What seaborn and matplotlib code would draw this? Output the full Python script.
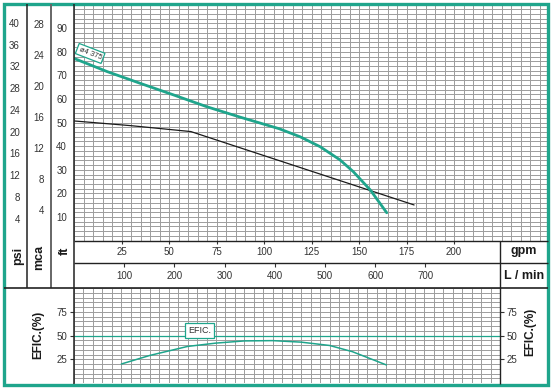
import numpy as np
import pandas as pd
import matplotlib
matplotlib.use("Agg")
import matplotlib.pyplot as plt
from matplotlib.lines import Line2D
from matplotlib.patches import Rectangle
import seaborn as sns

# ---------------- data ----------------
head_gpm = [0, 17.5, 35, 52.5, 70, 87.5, 108, 119, 129.5, 140, 147, 156, 164.6]
head_ft = [77.2, 71.6, 66.6, 61.7, 56.7, 52.3, 47.4, 44.0, 39.8, 34.2, 29.2, 21.4, 11.8]

sys_gpm = [0, 30, 61.5, 179]
sys_ft = [50.7, 48.7, 46.2, 15.1]

eff_gpm = [25, 40, 60, 75, 90, 105, 120, 135, 147, 156, 165]
eff_pct = [20, 29, 38.5, 42, 44.3, 44.6, 43, 39.5, 33, 26, 19]
eff_ref = 50

curve_label = "ø4 375"
eff_label = "EFIC."

ft_ticks = [10, 20, 30, 40, 50, 60, 70, 80, 90]
psi_ticks = [4, 8, 12, 16, 20, 24, 28, 32, 36, 40]
mca_ticks = [4, 8, 12, 16, 20, 24, 28]
gpm_ticks = [25, 50, 75, 100, 125, 150, 175, 200]
lmin_ticks = [100, 200, 300, 400, 500, 600, 700]
eff_ticks = [25, 50, 75]

# ---------------- style ----------------
sns.set_style("white")
plt.rcParams["font.family"] = ["Liberation Sans", "DejaVu Sans"]

TEAL = "#1fa58c"
GRID = "#9c9c9c"
W, H = 553, 392
PX = 1.9  # px per gpm


def rect(x0, y0, x1, y1):
    return [x0 / W, 1 - y1 / H, (x1 - x0) / W, (y1 - y0) / H]


def fline(x0, y0, x1, y1, color="#222222", lw=1.0):
    fig.add_artist(Line2D([x0 / W, x1 / W], [1 - y0 / H, 1 - y1 / H],
                          color=color, lw=lw, solid_capstyle="butt"))


def ftext(x, y, s, **kw):
    fig.text(x / W, 1 - y / H, s, ha="center", va="center", **kw)


fig = plt.figure(figsize=(W / 100, H / 100), dpi=100)

# ---------------- main head chart ----------------
ax = fig.add_axes(rect(74, 4.6, 547, 240.6))
ax.set_xlim(0, (547 - 74) / PX)
ax.set_ylim(0, 100)
ax.set_xticks([])
ax.set_xticks(np.arange(0, 250, 5), minor=True)
ax.set_yticks(ft_ticks)
ax.set_yticks(np.arange(0, 101, 2), minor=True)
ax.grid(True, which="both", color=GRID, lw=0.7)
ax.set_axisbelow(True)
ax.tick_params(axis="y", which="major", direction="out", length=3, width=0.8,
               labelsize=7, colors="#333333", pad=2)
ax.tick_params(axis="both", which="minor", length=0)
for s in ["top", "right", "bottom", "left"]:
    ax.spines[s].set_visible(False)

df_head = pd.DataFrame({"gpm": head_gpm, "ft": head_ft})
df_sys = pd.DataFrame({"gpm": sys_gpm, "ft": sys_ft})
sns.lineplot(data=df_sys, x="gpm", y="ft", ax=ax, color="#1a1a1a", lw=0.9, sort=False)
sns.lineplot(data=df_head, x="gpm", y="ft", ax=ax, color=TEAL, lw=2.0, sort=False)
ax.set_xlabel("")
ax.set_ylabel("")
ax.text(8.5, 79.3, curve_label, fontsize=5.5, rotation=-21, ha="center", va="center",
        color="#333333",
        bbox=dict(boxstyle="square,pad=0.25", fc="white", ec=TEAL, lw=0.9))

# psi axis
ax_psi = fig.add_axes(rect(27, 4.6, 27.01, 240.6))
ax_psi.set_ylim(0, 100 * 0.4335)
ax_psi.set_yticks(psi_ticks)
ax_psi.set_xticks([])
ax_psi.tick_params(axis="y", direction="out", length=3, width=0.8, labelsize=7,
                   colors="#333333", pad=2)
for s in ["top", "right", "bottom", "left"]:
    ax_psi.spines[s].set_visible(False)

# mca axis
ax_mca = fig.add_axes(rect(51, 4.6, 51.01, 240.6))
ax_mca.set_ylim(0, 100 * 0.3048)
ax_mca.set_yticks(mca_ticks)
ax_mca.set_xticks([])
ax_mca.tick_params(axis="y", direction="out", length=3, width=0.8, labelsize=7,
                   colors="#333333", pad=2)
for s in ["top", "right", "bottom", "left"]:
    ax_mca.spines[s].set_visible(False)

# ---------------- gpm row ----------------
ax_g = fig.add_axes(rect(74, 240.6, 501.5, 263))
ax_g.set_xlim(0, (501.5 - 74) / PX)
ax_g.set_xticks(gpm_ticks)
ax_g.set_yticks([])
ax_g.tick_params(axis="x", top=True, bottom=False, labeltop=True, labelbottom=False,
                 direction="in", length=2.5, width=0.8, labelsize=7, colors="#333333",
                 pad=-12)
for s in ["top", "right", "bottom", "left"]:
    ax_g.spines[s].set_visible(False)
ax_g.patch.set_alpha(0)

# ---------------- L/min row ----------------
ax_l = fig.add_axes(rect(74, 263, 501.5, 288))
ax_l.set_xlim(0, (501.5 - 74) / PX * 3.7854)
ax_l.set_xticks(lmin_ticks)
ax_l.set_yticks([])
ax_l.tick_params(axis="x", top=True, bottom=False, labeltop=True, labelbottom=False,
                 direction="in", length=3, width=0.8, labelsize=7, colors="#333333",
                 pad=-13)
for s in ["top", "right", "bottom", "left"]:
    ax_l.spines[s].set_visible(False)
ax_l.patch.set_alpha(0)

# ---------------- efficiency panel ----------------
ax_e = fig.add_axes(rect(74, 288, 500, 383))
ax_e.set_xlim(0, (500 - 74) / PX)
ax_e.set_ylim(0, 100)
ax_e.set_xticks([])
ax_e.set_xticks(np.arange(0, 230, 5), minor=True)
ax_e.set_yticks(eff_ticks)
ax_e.set_yticks(np.arange(0, 101, 5), minor=True)
ax_e.grid(True, which="both", color=GRID, lw=0.7)
ax_e.set_axisbelow(True)
ax_e.tick_params(axis="y", which="major", direction="out", length=3, width=0.8,
                 labelsize=7, colors="#333333", pad=2, left=True, right=True,
                 labelright=True)
ax_e.tick_params(axis="both", which="minor", length=0)
for s in ["top", "right", "bottom", "left"]:
    ax_e.spines[s].set_visible(False)
ax_e.axhline(eff_ref, color=TEAL, lw=0.9)
df_eff = pd.DataFrame({"gpm": eff_gpm, "eff": eff_pct})
sns.lineplot(data=df_eff, x="gpm", y="eff", ax=ax_e, color=TEAL, lw=1.1, sort=False)
ax_e.set_xlabel("")
ax_e.set_ylabel("")
ax_e.text(66.3, 55.2, eff_label, fontsize=6.5, ha="center", va="center", color="#333333",
          bbox=dict(boxstyle="square,pad=0.3", fc="white", ec=TEAL, lw=0.9))

# ---------------- frame lines ----------------
fline(27, 4, 27, 288, "#222222", 1.1)
fline(51, 4, 51, 288, "#666666", 1.4)
fline(74, 4, 74, 384, "#222222", 1.1)
fline(74, 240.6, 548, 240.6, "#222222", 1.0)
fline(74, 263, 548, 263, "#222222", 1.0)
fline(4, 288, 548, 288, "#222222", 1.2)
fline(500, 240.6, 500, 384, "#222222", 1.0)
fig.add_artist(Rectangle((4 / W, 1 - 384.5 / H), 543.5 / W, 380.5 / H, fill=False,
                         ec=TEAL, lw=2.4))

# ---------------- unit labels ----------------
bold = dict(fontsize=9, fontweight="bold", color="#1a1a1a")
ftext(18, 256, "psi", rotation=90, **bold)
ftext(39, 257, "mca", rotation=90, **bold)
ftext(65, 251, "ft", rotation=90, **bold)
ftext(524, 251, "gpm", **bold)
ftext(524, 276, "L / min", **bold)
ftext(38, 335, "EFIC.(%)", rotation=90, fontsize=8.5, fontweight="bold", color="#1a1a1a")
ftext(530, 332, "EFIC.(%)", rotation=90, fontsize=8.5, fontweight="bold", color="#1a1a1a")

fig.savefig("out.png", dpi=100)
